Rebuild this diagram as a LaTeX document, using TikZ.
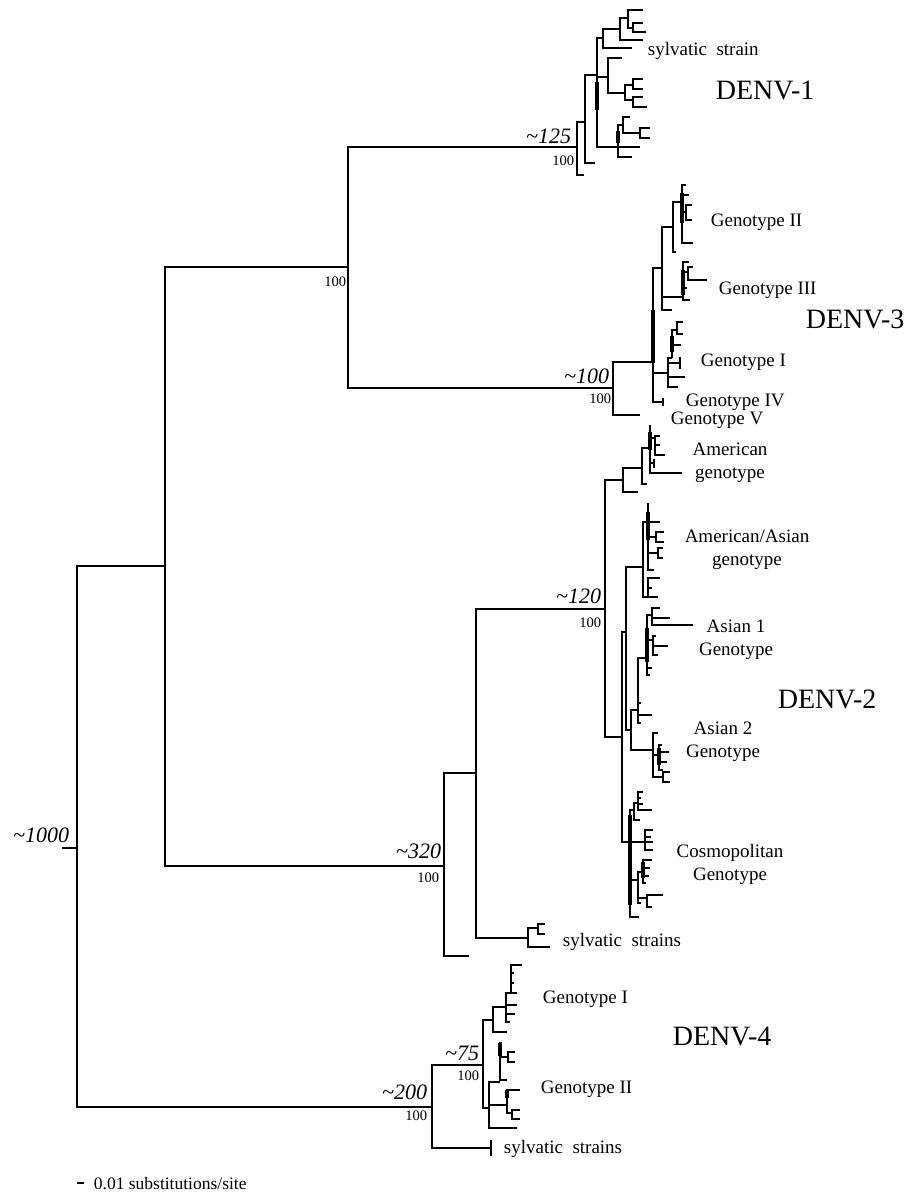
\documentclass[tikz,border=0pt]{standalone}
\usepackage{fontspec}
\setmainfont{Liberation Serif}
\begin{document}
\begin{tikzpicture}[x=1pt,y=-1pt,line width=1.8pt,
  thk/.style={line width=3.2pt},
  lab/.style={font=\fontsize{19}{23}\selectfont, anchor=base west, inner sep=0pt},
  lab2/.style={font=\fontsize{19}{23}\selectfont, align=center, inner sep=0pt},
  big/.style={font=\fontsize{28}{30}\selectfont, anchor=base west, inner sep=0pt},
  bs/.style={font=\fontsize{14.5}{16}\selectfont, anchor=base east, inner sep=0pt},
  ag/.style={font=\fontsize{22}{24}\selectfont\itshape, anchor=base east, inner sep=0pt}]
\useasboundingbox (0,0) rectangle (910,1196);
\fill[white] (0,0) rectangle (910,1196);
% ---- backbone
\draw (62,848) -- (77,848);
\draw (165,566) -- (77,566) -- (77,1107) -- (432,1107);
\draw (348,267) -- (165,267) -- (165,866) -- (444,866);
\draw (577,147) -- (348,147) -- (348,388) -- (613,388);
\draw (477,773) -- (444,773) -- (444,956) -- (469,956);
\draw (605,609) -- (476,609) -- (476,938) -- (528,938);
% ---- DENV-1
\draw (585,122) -- (577,122) -- (577,175) -- (584,175);
\draw (597,75) -- (585,75) -- (585,163) -- (595,163);
\draw (603,38) -- (597,38) -- (597,147) -- (640,147);
\draw[thk] (597,82) -- (597,110);
\draw (597,77) -- (608,77);
\draw (620,29) -- (603,29) -- (603,48) -- (632,48);
\draw (628,18) -- (620,18) -- (620,40) -- (643,40);
\draw (643,10) -- (628,10) -- (628,28) -- (633,28);
\draw (643,23) -- (633,23) -- (633,32) -- (646,32);
\draw (622,58) -- (608,58) -- (608,93) -- (625,93);
\draw (633,85) -- (625,85) -- (625,100) -- (633,100);
\draw (643,79) -- (633,79) -- (633,89) -- (643,89);
\draw (643,97) -- (633,97) -- (633,107) -- (647,107);
\draw (623,125) -- (618,125) -- (618,157) -- (632,157);
\draw[thk] (618,131) -- (618,143);
\draw (630,117) -- (623,117) -- (623,133) -- (640,133);
\draw (650,128) -- (640,128) -- (640,138) -- (650,138);
% ---- DENV-3
\draw (653,362) -- (613,362) -- (613,415) -- (640,415);
\draw (662,268) -- (653,268) -- (653,402) -- (663,402);
\draw[thk] (653,310) -- (653,363);
\draw (663,398) -- (663,406);
\draw (653,373) -- (668,373);
\draw (672,358) -- (668,358) -- (668,387) -- (678,387);
\draw (668,377) -- (685,377);
\draw (668,363) -- (680,363);
\draw (680,357) -- (680,369);
\draw (677,330) -- (672,330) -- (672,358);
\draw[thk] (672,336) -- (672,352);
\draw (672,345) -- (681,345);
\draw (683,322) -- (677,322) -- (677,334) -- (683,334);
\draw (673,227) -- (662,227) -- (662,310) -- (672,310);
\draw (662,297) -- (683,297);
\draw (689,262) -- (683,262) -- (683,300) -- (690,300);
\draw[thk] (683,270) -- (683,295);
\draw (683,272) -- (688,272);
\draw (693,267) -- (688,267) -- (688,280) -- (707,280);
\draw (683,288) -- (687,288);
\draw (682,202) -- (673,202) -- (673,252) -- (676,252);
\draw (686,185) -- (682,185) -- (682,243) -- (693,243);
\draw[thk] (682,193) -- (682,223);
\draw (682,195) -- (689,195);
\draw (682,212) -- (686,212);
\draw (692,205) -- (686,205) -- (686,220) -- (692,220);
% ---- DENV-2
\draw (623,480) -- (605,480) -- (605,737) -- (622,737);
\draw (642,468) -- (623,468) -- (623,492) -- (638,492);
\draw (650,448) -- (642,448) -- (642,484) -- (647,484);
\draw (650,425) -- (650,473) -- (682,473);
\draw[thk] (650,432) -- (650,450);
\draw (650,438) -- (655,438);
\draw (660,436) -- (655,436) -- (655,455) -- (665,455);
\draw (655,445) -- (660,445);
\draw (650,463) -- (654,463);
\draw (654,459) -- (654,468);
\draw (626,632) -- (622,632) -- (622,842) -- (653,842);
\draw (643,567) -- (626,567) -- (626,730) -- (631,730);
\draw (648,522) -- (643,522) -- (643,597) -- (658,597);
\draw (648,503) -- (648,570) -- (654,570);
\draw[thk] (648,512) -- (648,540);
\draw (648,522) -- (660,522);
\draw (648,537) -- (656,537);
\draw (664,532) -- (656,532) -- (656,542) -- (664,542);
\draw (648,553) -- (658,553);
\draw (663,548) -- (658,548) -- (658,558) -- (663,558);
\draw (660,578) -- (648,578) -- (648,597);
\draw (648,588) -- (652,588);
\draw (638,710) -- (631,710) -- (631,750) -- (653,750);
\draw (647,658) -- (638,658) -- (638,723) -- (641,723);
\draw (638,715) -- (652,715);
\draw (638,703) -- (641,703);
\draw (652,615) -- (647,615) -- (647,675) -- (650,675);
\draw[thk] (647,628) -- (647,662);
\draw (647,668) -- (652,668);
\draw (660,608) -- (652,608) -- (652,625) -- (693,625);
\draw (652,618) -- (670,618);
\draw (647,640) -- (653,640);
\draw (656,636) -- (653,636) -- (653,655) -- (658,655);
\draw (653,646) -- (668,646);
\draw (658,733) -- (653,733) -- (653,777) -- (663,777);
\draw (653,755) -- (659,755);
\draw (662,745) -- (659,745) -- (659,770) -- (663,770);
\draw[thk] (659,748) -- (659,765);
\draw (659,752) -- (669,752);
\draw (659,762) -- (667,762);
\draw (670,772) -- (663,772) -- (663,782) -- (670,782);
\draw (634,810) -- (630,810) -- (630,917) -- (639,917);
\draw[thk] (630,815) -- (630,905);
\draw (638,803) -- (634,803) -- (634,820) -- (640,820);
\draw (643,792) -- (638,792) -- (638,810) -- (652,810);
\draw (638,798) -- (641,798);
\draw (638,804) -- (643,804);
\draw (653,830) -- (645,830) -- (645,850) -- (653,850);
\draw (645,837) -- (651,837);
\draw (630,880) -- (638,880);
\draw (643,872) -- (638,872) -- (638,903) -- (641,903);
\draw (638,898) -- (647,898);
\draw (652,860) -- (643,860) -- (643,883) -- (646,883);
\draw[thk] (643,862) -- (643,878);
\draw (643,868) -- (650,868);
\draw (643,876) -- (649,876);
\draw (663,895) -- (647,895) -- (647,907) -- (652,907);
\draw (538,928) -- (528,928) -- (528,947) -- (550,947);
\draw (545,924) -- (538,924) -- (538,934) -- (545,934);
% ---- DENV-4
\draw (483,1065) -- (432,1065) -- (432,1148) -- (491,1148);
\draw (491,1140) -- (491,1156);
\draw (493,1020) -- (483,1020) -- (483,1108) -- (489,1108);
\draw (506,1007) -- (493,1007) -- (493,1032) -- (507,1032);
\draw (511,993) -- (506,993) -- (506,1022) -- (510,1022);
\draw (506,1005) -- (517,1005);
\draw (506,1014) -- (515,1014);
\draw (522,965) -- (511,965) -- (511,993) -- (517,993);
\draw (511,973) -- (514,973);
\draw (511,983) -- (514,983);
\draw (500,1082) -- (489,1082) -- (489,1128) -- (517,1128);
\draw (489,1105) -- (507,1105);
\draw (520,1090) -- (507,1090) -- (507,1113) -- (512,1113);
\draw[thk] (507,1090) -- (507,1098);
\draw (520,1110) -- (512,1110) -- (512,1119) -- (520,1119);
\draw (502,1043) -- (500,1043) -- (500,1080) -- (507,1080);
\draw[thk] (500,1043) -- (500,1056);
\draw (500,1057) -- (508,1057);
\draw (515,1052) -- (508,1052) -- (508,1062) -- (515,1062);
% ---- scale bar
\coordinate (sb1) at (77,1183);
\coordinate (sb2) at (84,1183);
\draw (sb1) -- (sb2);
\node[lab, font=\fontsize{17.5}{20}\selectfont, anchor=west] (scale) at (93,1184) {0.01 substitutions/site};
% ---- node ages / bootstraps
\node[ag] (a1000) at (70,842) {\textasciitilde1000};
\node[ag] (a125) at (572,143) {\textasciitilde125};
\node[bs] (b125) at (575,165) {100};
\node[bs] (bB) at (347,286) {100};
\node[ag] (a100) at (610,383) {\textasciitilde100};
\node[bs] (b100) at (612,403) {100};
\node[ag] (a120) at (602,603) {\textasciitilde120};
\node[bs] (b120) at (602,627) {100};
\node[ag] (a320) at (442,858) {\textasciitilde320};
\node[bs] (b320) at (440,882) {100};
\node[ag] (a75) at (480,1060) {\textasciitilde75};
\node[bs] (b75) at (480,1080) {100};
\node[ag] (a200) at (428,1099) {\textasciitilde200};
\node[bs] (b200) at (428,1120) {100};
% ---- leaf labels
\node[lab] (syl1) at (647,56) {sylvatic\ \ strain};
\node[lab] (g2) at (710,226) {Genotype II};
\node[lab] (g3) at (718,294) {Genotype III};
\node[lab] (g1) at (700,366) {Genotype I};
\node[lab] (g4) at (685,406) {Genotype IV};
\node[lab] (g5) at (670,424) {Genotype V};
\node[lab2] (am) at (730,463) {American\\genotype};
\node[lab2] (amas) at (747,550) {American/Asian\\genotype};
\node[lab2] (as1) at (736,640) {Asian 1\\Genotype};
\node[lab2] (as2) at (723,742) {Asian 2\\Genotype};
\node[lab2] (cos) at (730,864) {Cosmopolitan\\Genotype};
\node[lab] (syl2) at (562,946) {sylvatic\ \ strains};
\node[lab] (d4g1) at (542,1003) {Genotype I};
\node[lab] (d4g2) at (540,1093) {Genotype II};
\node[lab] (syl4) at (503,1153) {sylvatic\ \ strains};
% ---- serotype labels
\node[big] (d1) at (715,100) {DENV-1};
\node[big] (d3) at (805,328) {DENV-3};
\node[big] (d2) at (777,708) {DENV-2};
\node[big] (d4) at (672,1045) {DENV-4};
\end{tikzpicture}
\end{document}
